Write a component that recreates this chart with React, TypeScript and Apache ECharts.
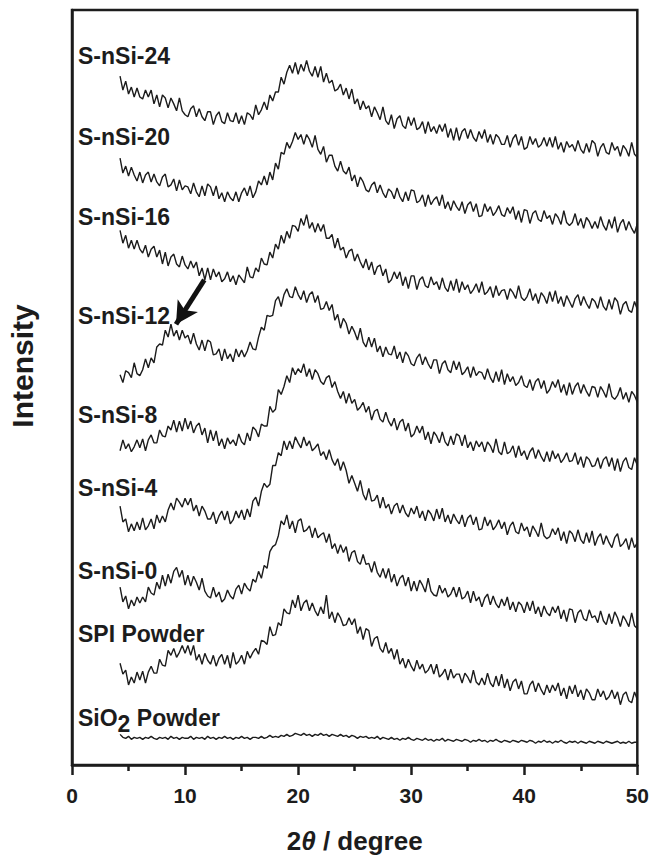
import React, { useEffect, useRef } from "react";
import * as echarts from "echarts";

// 2θ grid of the scans: first angle and step (degrees)
const X_START = 4.25;
const X_STEP = 0.25;

// Intensity (a.u., curves already offset vertically as in the figure)
const S_NSI_24 = [
  697, 683, 692, 679, 686, 676, 685, 676,
  674, 683, 676, 683, 669, 678, 666, 678,
  675, 665, 675, 669, 662, 675, 662, 658,
  656, 664, 667, 656, 664, 656, 652, 661,
  661, 648, 657, 661, 651, 649, 660, 652,
  651, 660, 649, 657, 648, 660, 658, 653,
  668, 658, 663, 671, 663, 678, 672, 681,
  681, 696, 689, 701, 708, 700, 711, 699,
  709, 702, 713, 702, 697, 707, 696, 707,
  691, 700, 690, 693, 682, 684, 689, 678,
  685, 674, 684, 669, 674, 663, 672, 664,
  667, 656, 666, 660, 653, 666, 652, 648,
  658, 644, 654, 657, 647, 644, 656, 647,
  655, 643, 645, 651, 639, 651, 641, 646,
  639, 648, 641, 649, 635, 644, 632, 645,
  632, 641, 644, 634, 643, 635, 631, 641,
  634, 643, 630, 638, 628, 638, 635, 628,
  628, 637, 625, 634, 638, 627, 636, 623,
  625, 636, 628, 634, 625, 628, 635, 626,
  635, 625, 636, 623, 630, 620, 631, 625,
  628, 621, 632, 623, 619, 629, 620, 632,
  629, 616, 625, 629, 620, 618, 630, 622,
  626, 616, 627, 623, 616, 630, 618, 615,
];

const S_NSI_20 = [
  614, 599, 606, 596, 605, 597, 591, 600,
  589, 597, 600, 590, 598, 590, 586, 595,
  598, 585, 587, 593, 581, 592, 582, 586,
  585, 578, 589, 580, 575, 586, 576, 588,
  585, 576, 586, 573, 579, 570, 580, 574,
  571, 580, 570, 579, 584, 576, 586, 574,
  580, 591, 587, 596, 587, 600, 592, 609,
  603, 620, 618, 630, 624, 631, 640, 633,
  638, 628, 638, 633, 625, 637, 623, 618,
  626, 610, 617, 617, 606, 601, 611, 601,
  598, 605, 591, 597, 585, 595, 590, 582,
  580, 587, 590, 579, 587, 579, 574, 583,
  580, 573, 584, 575, 570, 580, 571, 582,
  581, 569, 571, 577, 565, 577, 567, 572,
  575, 566, 577, 563, 570, 561, 571, 565,
  561, 570, 558, 567, 570, 560, 568, 555,
  556, 568, 560, 565, 556, 560, 566, 557,
  555, 564, 558, 565, 552, 561, 549, 562,
  561, 548, 558, 561, 552, 550, 561, 553,
  556, 547, 558, 554, 547, 561, 549, 546,
  549, 558, 546, 553, 543, 554, 550, 543,
  550, 543, 555, 546, 541, 552, 543, 555,
  539, 548, 552, 541, 550, 543, 538, 548,
];

const S_NSI_16 = [
  541, 528, 536, 523, 531, 522, 531, 522,
  518, 526, 514, 522, 525, 514, 521, 507,
  519, 505, 514, 517, 507, 504, 515, 506,
  502, 510, 503, 509, 495, 503, 491, 503,
  491, 502, 494, 499, 489, 492, 499, 489,
  495, 486, 496, 492, 488, 504, 494, 493,
  503, 499, 513, 507, 506, 519, 513, 527,
  522, 536, 528, 540, 533, 546, 545, 540,
  553, 546, 557, 543, 549, 539, 548, 540,
  547, 533, 533, 537, 523, 533, 521, 524,
  513, 520, 522, 510, 517, 509, 503, 512,
  501, 509, 496, 504, 506, 495, 502, 488,
  491, 499, 492, 499, 485, 494, 482, 495,
  495, 481, 491, 494, 485, 483, 494, 486,
  489, 481, 493, 483, 479, 490, 480, 492,
  478, 489, 481, 486, 477, 481, 487, 478,
  489, 476, 479, 484, 473, 485, 475, 480,
  481, 471, 482, 478, 472, 485, 473, 470,
  474, 482, 470, 477, 467, 478, 474, 467,
  479, 469, 480, 467, 474, 464, 475, 469,
  463, 472, 476, 465, 474, 467, 462, 472,
  469, 462, 474, 464, 460, 471, 461, 473,
  469, 456, 466, 469, 460, 458, 469, 461,
];

const S_NSI_12 = [
  395, 387, 399, 397, 392, 407, 396, 394,
  400, 411, 402, 412, 407, 423, 426, 425,
  440, 433, 446, 434, 440, 430, 440, 432,
  435, 426, 437, 426, 420, 430, 419, 430,
  428, 415, 416, 421, 409, 421, 411, 416,
  408, 421, 413, 420, 413, 419, 428, 421,
  420, 433, 443, 440, 455, 454, 455, 470,
  474, 464, 476, 482, 474, 473, 484, 476,
  471, 480, 468, 476, 479, 468, 475, 461,
  462, 469, 460, 466, 450, 456, 442, 452,
  447, 436, 444, 438, 430, 442, 428, 423,
  433, 423, 432, 418, 424, 413, 423, 416,
  415, 424, 411, 418, 407, 418, 414, 406,
  404, 412, 416, 405, 413, 406, 401, 410,
  410, 396, 406, 409, 400, 397, 409, 400,
  408, 395, 398, 403, 392, 403, 394, 398,
  397, 390, 401, 392, 387, 398, 388, 400,
  385, 396, 388, 393, 384, 387, 394, 384,
  382, 390, 379, 388, 391, 381, 389, 376,
  380, 388, 382, 390, 377, 385, 374, 387,
  375, 383, 387, 376, 385, 378, 373, 383,
  382, 372, 383, 378, 372, 386, 373, 370,
  374, 382, 370, 377, 367, 378, 374, 367,
];

const S_NSI_8 = [
  318, 329, 320, 325, 317, 322, 329, 321,
  330, 318, 329, 334, 326, 326, 339, 333,
  332, 343, 339, 349, 337, 348, 338, 351,
  340, 348, 336, 343, 346, 334, 341, 326,
  339, 328, 338, 323, 330, 320, 331, 325,
  329, 323, 335, 327, 324, 336, 328, 342,
  339, 332, 345, 343, 343, 363, 357, 360,
  380, 375, 383, 394, 387, 402, 395, 401,
  397, 406, 393, 401, 390, 400, 396, 388,
  385, 392, 394, 382, 388, 378, 371, 378,
  366, 376, 366, 370, 359, 362, 367, 357,
  363, 349, 358, 360, 350, 347, 357, 348,
  343, 351, 339, 347, 350, 338, 346, 332,
  335, 343, 336, 343, 329, 337, 325, 337,
  333, 326, 337, 327, 323, 333, 324, 335,
  333, 323, 334, 321, 327, 318, 328, 322,
  327, 317, 327, 323, 316, 330, 317, 314,
  327, 315, 317, 323, 311, 323, 313, 318,
  309, 317, 321, 310, 319, 312, 307, 317,
  307, 318, 310, 315, 306, 310, 316, 307,
  308, 316, 304, 312, 301, 312, 309, 302,
  303, 311, 300, 309, 312, 302, 311, 298,
  310, 297, 307, 311, 301, 299, 311, 303,
];

const S_NSI_4 = [
  262, 246, 249, 236, 244, 237, 246, 238,
  250, 238, 242, 249, 239, 253, 245, 252,
  246, 258, 265, 258, 270, 266, 261, 270,
  263, 270, 257, 263, 252, 262, 257, 249,
  249, 256, 244, 252, 257, 248, 257, 244,
  248, 257, 250, 258, 248, 259, 251, 267,
  271, 262, 277, 285, 281, 284, 303, 303,
  316, 313, 328, 319, 328, 320, 332, 326,
  321, 332, 323, 328, 318, 321, 325, 313,
  317, 309, 319, 309, 303, 310, 298, 307,
  298, 285, 293, 285, 277, 288, 274, 268,
  280, 267, 268, 273, 260, 271, 260, 264,
  254, 262, 265, 255, 263, 255, 251, 260,
  254, 262, 250, 257, 247, 258, 254, 247,
  259, 249, 260, 246, 253, 244, 254, 248,
  244, 253, 241, 250, 253, 243, 251, 238,
  239, 251, 242, 248, 238, 242, 248, 239,
  246, 233, 242, 246, 236, 234, 245, 237,
  241, 231, 242, 237, 231, 245, 232, 229,
  231, 239, 233, 240, 227, 236, 224, 237,
  234, 226, 238, 228, 224, 235, 225, 237,
  222, 230, 234, 223, 232, 225, 220, 230,
  234, 221, 224, 229, 218, 230, 220, 225,
];

const S_NSI_0 = [
  180, 165, 171, 158, 167, 161, 170, 164,
  170, 165, 180, 174, 172, 185, 178, 192,
  181, 193, 184, 196, 200, 190, 197, 182,
  192, 181, 191, 185, 177, 189, 176, 171,
  169, 180, 170, 175, 165, 168, 177, 171,
  168, 178, 182, 173, 184, 179, 176, 188,
  185, 196, 189, 202, 199, 216, 221, 223,
  232, 247, 243, 253, 239, 247, 235, 247,
  249, 236, 238, 242, 230, 240, 230, 233,
  235, 225, 234, 219, 224, 214, 223, 215,
  221, 206, 215, 217, 206, 203, 213, 203,
  204, 195, 206, 195, 190, 199, 189, 199,
  185, 193, 181, 189, 192, 181, 190, 176,
  186, 176, 187, 182, 175, 189, 176, 172,
  171, 182, 174, 179, 170, 173, 180, 170,
  180, 168, 170, 176, 164, 176, 166, 170,
  160, 169, 173, 162, 171, 163, 159, 168,
  161, 170, 157, 165, 155, 165, 162, 154,
  165, 156, 166, 153, 160, 150, 161, 154,
  151, 160, 154, 161, 148, 157, 145, 158,
  157, 144, 154, 157, 148, 146, 157, 149,
  151, 144, 156, 146, 142, 153, 143, 155,
  149, 140, 151, 146, 140, 154, 141, 138,
];

const SPI_POWDER = [
  103, 92, 96, 81, 89, 83, 94, 86,
  95, 83, 94, 100, 93, 93, 107, 101,
  100, 116, 111, 118, 109, 114, 121, 113,
  121, 111, 121, 106, 112, 102, 113, 106,
  102, 111, 100, 108, 112, 102, 111, 98,
  114, 102, 105, 111, 102, 115, 108, 114,
  118, 112, 126, 125, 122, 140, 131, 132,
  144, 141, 158, 154, 153, 167, 159, 172,
  156, 164, 167, 156, 164, 156, 151, 160,
  153, 172, 148, 155, 144, 154, 149, 141,
  142, 149, 142, 148, 133, 140, 127, 138,
  136, 120, 128, 130, 118, 114, 124, 113,
  118, 107, 117, 102, 108, 98, 107, 100,
  95, 106, 97, 102, 93, 96, 102, 92,
  102, 89, 92, 97, 86, 97, 88, 92,
  92, 83, 93, 89, 83, 96, 84, 81,
  88, 81, 93, 83, 79, 90, 80, 92,
  78, 87, 75, 84, 87, 77, 85, 72,
  72, 81, 85, 74, 83, 76, 71, 81,
  73, 81, 75, 83, 70, 78, 67, 80,
  72, 81, 69, 76, 66, 77, 73, 66,
  66, 77, 69, 75, 66, 69, 76, 67,
  74, 61, 71, 74, 65, 63, 74, 66,
];

const SIO2_POWDER = [
  31, 28, 27, 29, 26, 28, 27, 28,
  26, 28, 27, 29, 27, 26, 28, 27,
  28, 26, 29, 27, 28, 26, 28, 27,
  27, 29, 26, 28, 27, 28, 26, 29,
  27, 28, 26, 28, 27, 29, 27, 28,
  26, 28, 27, 29, 27, 28, 26, 28,
  28, 27, 29, 27, 28, 30, 28, 29,
  28, 30, 29, 31, 29, 30, 32, 31,
  30, 32, 30, 31, 29, 31, 30, 32,
  30, 31, 29, 31, 30, 29, 31, 29,
  30, 28, 30, 29, 27, 29, 28, 29,
  27, 28, 27, 29, 26, 28, 27, 26,
  28, 26, 27, 25, 27, 26, 28, 26,
  25, 27, 26, 25, 27, 25, 26, 24,
  26, 25, 27, 24, 26, 25, 24, 26,
  25, 24, 26, 25, 23, 25, 24, 26,
  24, 25, 23, 25, 24, 26, 24, 23,
  25, 24, 23, 25, 24, 23, 25, 24,
  23, 25, 24, 22, 24, 23, 25, 23,
  24, 22, 24, 23, 25, 23, 22, 24,
  23, 24, 22, 24, 23, 22, 24, 23,
  22, 24, 23, 22, 24, 23, 22, 23,
  24, 22, 23, 22, 24, 22, 23, 23,
];

const SERIES_NAMES = [
  "S-nSi-24",
  "S-nSi-20",
  "S-nSi-16",
  "S-nSi-12",
  "S-nSi-8",
  "S-nSi-4",
  "S-nSi-0",
  "SPI Powder",
  "SiO2 Powder",
];
const SERIES_VALUES = [
  S_NSI_24,
  S_NSI_20,
  S_NSI_16,
  S_NSI_12,
  S_NSI_8,
  S_NSI_4,
  S_NSI_0,
  SPI_POWDER,
  SIO2_POWDER,
];

const X_TICKS = [0, 10, 20, 30, 40, 50];
const Y_MAX = 764;

// arrow pointing at the ~9° shoulder of S-nSi-12 (data coordinates)
const ARROW_FROM = [11.7, 491];
const ARROW_TO = [9.2, 446];

// label vertical centres (px) for the curve names
const LABEL_Y = [57, 138, 218, 317, 416, 489, 572, 635, 719];

const FONT = "'Liberation Sans', Arial, Helvetica, sans-serif";
const INK = "#1c1c1c";

export default function App() {
  const ref = useRef<HTMLDivElement>(null);

  useEffect(() => {
    if (!ref.current) return;
    const chart = echarts.init(ref.current, null, { renderer: "svg" });

    const series: any[] = SERIES_VALUES.map((vals, k) => {
      const s: any = {
        name: SERIES_NAMES[k],
        type: "line",
        data: vals.map((v, i) => [X_START + i * X_STEP, v]),
        showSymbol: false,
        symbol: "none",
        lineStyle: { color: INK, width: 1.4 },
        silent: true,
      };
      if (SERIES_NAMES[k] === "S-nSi-12") {
        s.markLine = {
          silent: true,
          symbol: ["none", "arrow"],
          symbolSize: [18, 22],
          label: { show: false },
          lineStyle: { color: "#111", width: 5, type: "solid" },
          data: [[{ coord: ARROW_FROM }, { coord: ARROW_TO }]],
        };
      }
      return s;
    });

    const labels: any[] = SERIES_NAMES.map((name, k) => {
      const isSi = name === "SiO2 Powder";
      return {
        type: "text",
        left: 78,
        top: LABEL_Y[k] - 13,
        style: {
          text: isSi ? "SiO{sub|2} Powder" : name,
          font: `bold 23px ${FONT}`,
          fill: INK,
          rich: isSi
            ? {
                sub: {
                  font: `bold 23px ${FONT}`,
                  fill: INK,
                  padding: [12, 0, 0, 0],
                },
              }
            : undefined,
        },
      };
    });

    const yTitle = {
      type: "text",
      x: 22,
      y: 366,
      rotation: Math.PI / 2,
      style: {
        text: "Intensity",
        font: `bold 30px ${FONT}`,
        fill: INK,
        textAlign: "center",
        textVerticalAlign: "middle",
      },
    };

    chart.setOption({
      animation: false,
      backgroundColor: "#ffffff",
      grid: {
        left: 72,
        right: 12,
        top: 10,
        bottom: 85,
        show: true,
        borderColor: INK,
        borderWidth: 2.5,
        backgroundColor: "transparent",
      },
      xAxis: {
        type: "value",
        min: X_TICKS[0],
        max: X_TICKS[X_TICKS.length - 1],
        interval: 10,
        name: "2{i|θ} / degree",
        nameLocation: "middle",
        nameGap: 63,
        nameTextStyle: {
          fontFamily: FONT,
          fontWeight: "bold",
          fontSize: 26,
          color: INK,
          rich: {
            i: {
              fontFamily: FONT,
              fontWeight: "bold",
              fontStyle: "italic",
              fontSize: 26,
              color: INK,
            },
          },
        },
        axisLine: { show: true, lineStyle: { color: INK, width: 2.5 } },
        axisTick: {
          show: true,
          inside: false,
          length: 10,
          lineStyle: { color: INK, width: 2.5 },
        },
        minorTick: {
          show: true,
          splitNumber: 2,
          length: 6,
          lineStyle: { color: INK, width: 2.5 },
        },
        axisLabel: {
          margin: 20,
          fontFamily: FONT,
          fontWeight: "bold",
          fontSize: 21,
          color: INK,
        },
        splitLine: { show: false },
      },
      yAxis: {
        type: "value",
        min: 0,
        max: Y_MAX,
        axisLine: { show: true, lineStyle: { color: INK, width: 2.5 } },
        axisTick: { show: false },
        axisLabel: { show: false },
        splitLine: { show: false },
      },
      graphic: [...labels, yTitle],
      series,
    });

    return () => chart.dispose();
  }, []);

  return (
    <div
      ref={ref}
      style={{ position: "fixed", left: 0, top: 0, width: 652, height: 859 }}
    />
  );
}
